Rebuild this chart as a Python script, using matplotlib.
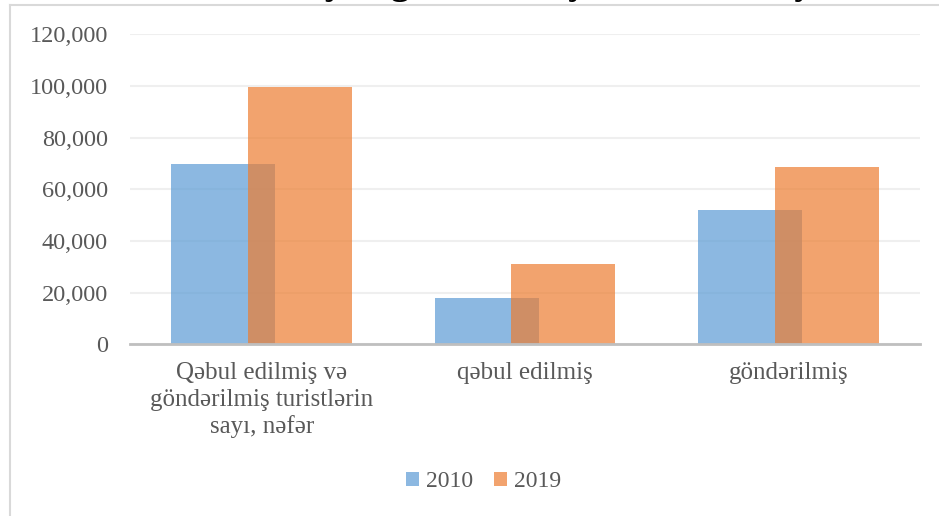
import matplotlib
matplotlib.use("Agg")
import matplotlib.pyplot as plt
from matplotlib.lines import Line2D
from matplotlib.ticker import FuncFormatter, MultipleLocator
import numpy as np

categories = ["Qəbul edilmiş və\ngöndərilmiş turistlərin\nsayı, nəfər", "qəbul edilmiş", "göndərilmiş"]
series_names = ["2010", "2019"]
values_2010 = [70000, 17800, 52000]
values_2019 = [99500, 31000, 68700]
title_text = "Qəbul edilmiş və göndərilmiş turistlərin sayı"

plt.rcParams['font.family'] = ['Liberation Serif', 'DejaVu Serif']

fig = plt.figure(figsize=(9.39, 5.16), dpi=100)
W, H = 939, 516
ax = fig.add_axes([130 / W, 1 - 344.4 / H, 790 / W, 310 / H])

x = np.arange(len(categories))
bw = 0.395
off = 0.146
ax.bar(x - off, values_2010, width=bw, color='#5B9BD5', alpha=0.7, label=series_names[0], zorder=2)
ax.bar(x + off, values_2019, width=bw, color='#ED7D31', alpha=0.7, label=series_names[1], zorder=3)

ax.set_xlim(-0.5, 2.5)
ax.set_ylim(0, 120000)
ax.yaxis.set_major_locator(MultipleLocator(20000))
ax.yaxis.set_major_formatter(FuncFormatter(lambda v, p: f"{int(v):,}"))
ax.grid(axis='y', color='#EFEFEF', linewidth=1.5, zorder=0)
ax.set_axisbelow(True)
for s in ['top', 'right', 'left']:
    ax.spines[s].set_visible(False)
ax.spines['bottom'].set_color('#BFBFBF')
ax.spines['bottom'].set_linewidth(2)
ax.spines['bottom'].set_zorder(4)

ax.set_xticks(x)
ax.set_xticklabels(categories, fontsize=18, color='#595959', linespacing=1.25)
ax.tick_params(axis='x', length=0, pad=13)
ax.tick_params(axis='y', length=0, pad=16, labelsize=17.5, labelcolor='#595959')

leg = fig.legend(loc='center', bbox_to_anchor=(0.515, 0.066), ncol=2, frameon=False,
                 fontsize=17, handlelength=0.55, handleheight=0.55, handletextpad=0.3,
                 columnspacing=0.9, labelcolor='#595959')

# chart frame
fig.add_artist(Line2D([10 / W, 10 / W], [0, 1 - 5 / H], color='#D9D9D9', lw=1.5, transform=fig.transFigure))
fig.add_artist(Line2D([10 / W, 1], [1 - 5 / H, 1 - 5 / H], color='#D9D9D9', lw=1.5, transform=fig.transFigure))

# title (mostly outside the visible area, as in the reference)
fig.text(0.5, 1 + 6 / H, title_text, ha='center', va='baseline', fontsize=27,
         fontweight='bold', color='black')

fig.savefig("out.png", dpi=100)
